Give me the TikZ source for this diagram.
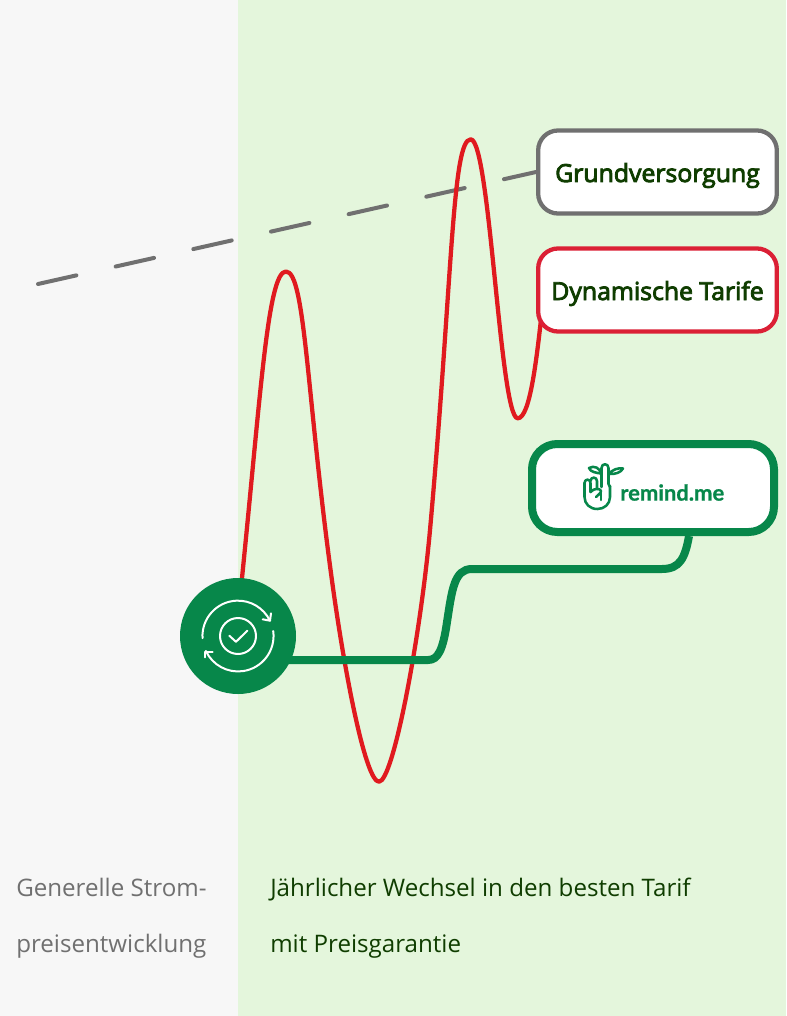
\documentclass[tikz,border=0pt]{standalone}
\usepackage{fontspec}
\setmainfont{Open Sans}
\newfontface\semibold{Open Sans}[FakeBold=3.5]
\newfontfamily\logofont{Lato}
\definecolor{bgleft}{HTML}{F7F7F7}
\definecolor{bgright}{HTML}{E4F6DC}
\definecolor{brand}{HTML}{07874A}
\definecolor{redline}{HTML}{E01A1F}
\definecolor{boxred}{HTML}{DB2035}
\definecolor{greyline}{HTML}{707070}
\definecolor{darktext}{HTML}{0F3D00}
\definecolor{greytext}{HTML}{707070}
\pgfdeclarelayer{backfill}
\pgfdeclarelayer{lines}
\pgfsetlayers{backfill,lines,main}
\tikzset{
  x=0.75pt,y=-0.75pt,
  labelbox/.style={draw,fill=white,rounded corners=15pt,line width=3.2pt,minimum width=179pt,minimum height=62.3pt,inner sep=0pt,text=darktext,font=\fontsize{18.6}{21}\selectfont\semibold},
  caption/.style={anchor=base west,inner sep=0pt,font=\fontsize{18.1}{21}\selectfont},
  iconline/.style={draw=white,line width=1.5pt,line cap=round,line join=round},
  logoline/.style={draw=brand,line width=1.9pt,line cap=round,line join=round},
}
\begin{document}
\begin{tikzpicture}
\useasboundingbox (0,0) rectangle (786,1016);
\begin{pgfonlayer}{backfill}
\fill[bgleft] (0,0) rectangle (238,1016);
\fill[bgright] (238,0) rectangle (786,1016);
\end{pgfonlayer}
% nodes
\node[labelbox,draw=greyline] (grund) at (657.5,172) {\smash{\raisebox{-7.5pt}{Grundversorgung}}};
\node[labelbox,draw=boxred] (dyn) at (657.5,290) {\smash{\raisebox{-7.5pt}{Dynamische Tarife}}};
\coordinate (dashstart) at (38,284);
\node[draw=brand,fill=white,line width=6pt,rounded corners=19pt,minimum width=181.5pt,minimum height=66pt,inner sep=0pt] (remind) at (653,488) {};
\node[circle,fill=brand,minimum size=87pt,inner sep=0pt] (icon) at (238,636) {};
\begin{pgfonlayer}{lines}
% dashed line
\draw[greyline,line width=3pt,line cap=round,dash pattern=on 29.5pt off 30.2pt] (dashstart) -- (grund.west);
% red line
\draw[redline,line width=3.2pt,line join=round] (icon.center) -- (242,578)
  .. controls (261,390) and (268,271.5) .. (286,271.5)
  .. controls (305.5,271.5) and (306.7,400) .. (333.3,590)
  .. controls (346,680) and (366,781.7) .. (379,781.7)
  .. controls (393,781.7) and (420,640) .. (430,530)
  .. controls (452.5,280) and (452,139.3) .. (470.7,139.3)
  .. controls (490,139.3) and (500,418.3) .. (517.7,418.3)
  .. controls (530,418.3) and (537,360) .. ([xshift=6pt]dyn.west);
% green connector
\draw[brand,line width=6pt] ([yshift=-18pt]icon.center) -- (428,660)
  .. controls (438,660) and (443,650) .. (447,622)
  .. controls (452,590) and (454,569) .. (472,569)
  -- (662,569)
  .. controls (680,569) and (685,558) .. ([xshift=27pt]remind.south);
\end{pgfonlayer}
% icon
\draw[iconline] (238,636) circle (18);
\draw[iconline] (229.3,635.7) -- (236,641.8) -- (247.3,630.7);
\draw[iconline] (202.5,638) arc (-183:-26:35.5);
\draw[iconline] (271,613.3) -- (270,620.7) -- (262.7,619.3);
\draw[iconline] (273.2,631) arc (-8:155:35.5);
\draw[iconline] (205,657.3) -- (205,651.7) -- (212.7,651.7);
% logo
\draw[logoline] (584.5,483) -- (584.5,497) .. controls (584.5,504) and (590,509) .. (597.3,509) .. controls (604.5,509) and (610,504) .. (610,497) -- (610,486);
\draw[logoline] (584.5,483) .. controls (584.5,478.5) and (590.5,478.5) .. (590.5,483) -- (590.5,492);
\draw[logoline] (590.5,481) .. controls (590.5,476.5) and (597,476.5) .. (597,481) -- (597,489);
\draw[logoline] (601.5,487) -- (601.5,468) .. controls (601.5,463) and (608.5,463) .. (608.5,468) -- (608.5,484) -- (610,487);
\draw[logoline] (590.5,492) .. controls (594,488) and (600,488) .. (601,491) .. controls (601,494) and (597,495) .. (596,497);
\draw[logoline] (601,491) -- (601,500);
\draw[logoline] (601,473.5) .. controls (597,473) and (590,472) .. (589,468) .. controls (594,465) and (600,468) .. (601,473.5);
\draw[logoline] (609,474) .. controls (612,469.5) and (619,467.5) .. (623,468.5) .. controls (621,472.5) and (615,474.5) .. (609,474);
\node[anchor=west,inner sep=0pt,text=brand,font=\logofont\bfseries\fontsize{16.5}{18}\selectfont\addfontfeature{FakeBold=0.8}] (logotext) at (620,492.5) {remind.me};
% captions
\node[caption,text=greytext] (capa) at (16,896) {Generelle Strom-};
\node[caption,text=greytext] (capb) at (16,952.5) {preisentwicklung};
\node[caption,text=darktext] (capc) at (270,896) {Jährlicher Wechsel in den besten Tarif};
\node[caption,text=darktext] (capd) at (270,952.5) {mit Preisgarantie};
\end{tikzpicture}
\end{document}
